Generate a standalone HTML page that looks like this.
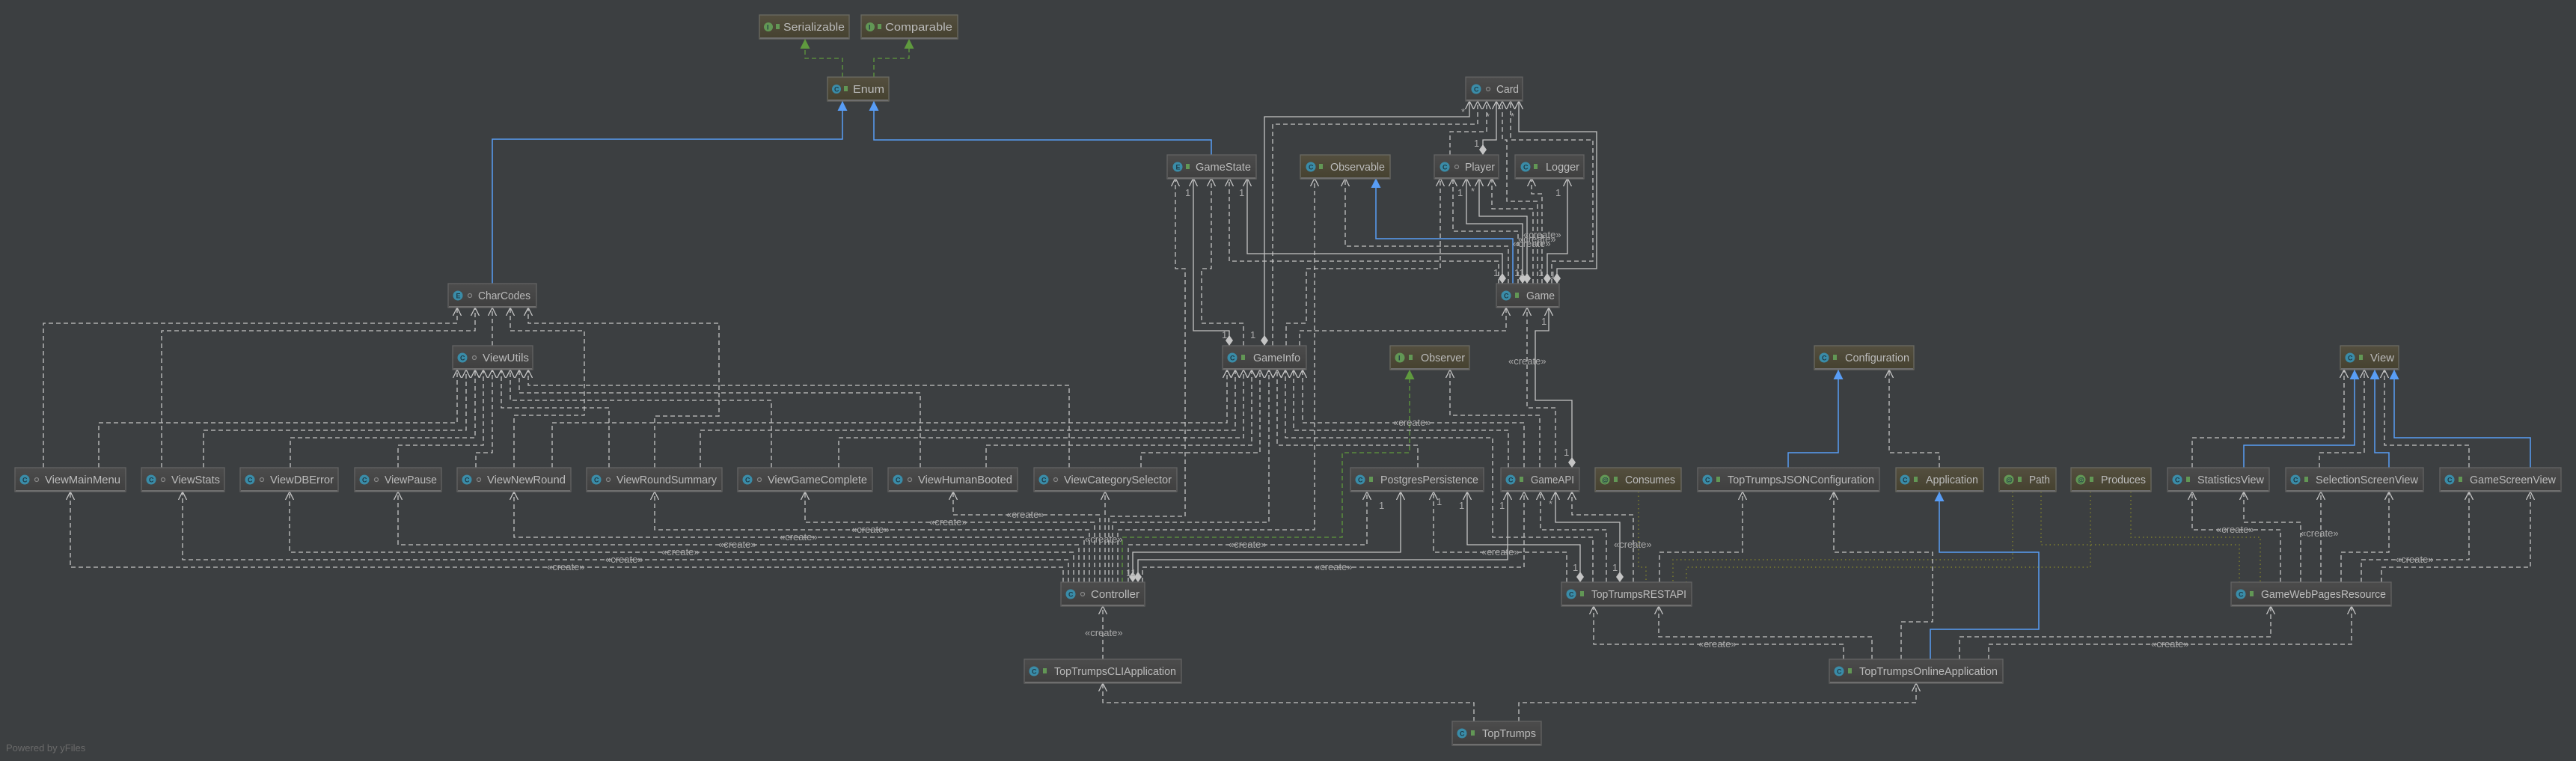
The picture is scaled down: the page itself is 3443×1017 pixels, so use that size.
<!DOCTYPE html>
<html><head><meta charset="utf-8"><style>
html,body{margin:0;padding:0;background:#3c3f41;}
svg{display:block;}
.b{fill:url(#gg);stroke:#636363;stroke-width:1.3}
.o{fill:url(#go);stroke:#6a6a62;stroke-width:1.3}
.bl{stroke:#6e6e6e;stroke-width:2}
.t{font-family:"Liberation Sans",sans-serif;font-size:15px;fill:#bbbbbb}
.ic{font-family:"Liberation Sans",sans-serif;font-size:9px;fill:#1f3a45;font-weight:bold}
.d{fill:none;stroke:#c4c4c4;stroke-width:1.3;stroke-dasharray:6,4}
.s{fill:none;stroke:#c4c4c4;stroke-width:1.3}
.bu{fill:none;stroke:#589df6;stroke-width:1.5}
.gr{fill:none;stroke:#5f9a3e;stroke-width:1.3;stroke-dasharray:6,4}
.dt{fill:none;stroke:#8a8a2a;stroke-width:1.2;stroke-dasharray:1.5,4}
.l{font-family:"Liberation Sans",sans-serif;font-size:13px;fill:#aaaaaa}
</style></head><body>
<svg width="3443" height="1017" viewBox="0 0 3443 1017" xmlns="http://www.w3.org/2000/svg">
<defs>
<linearGradient id="gg" x1="0" y1="0" x2="0" y2="1"><stop offset="0" stop-color="#4c4c4c"/><stop offset="1" stop-color="#3f3f3f"/></linearGradient>
<linearGradient id="go" x1="0" y1="0" x2="0" y2="1"><stop offset="0" stop-color="#544f3f"/><stop offset="1" stop-color="#45412f"/></linearGradient>
<marker id="a" markerWidth="12" markerHeight="12" refX="11" refY="6" orient="auto" markerUnits="userSpaceOnUse"><path d="M0,0.5 L11,6 L0,11.5" fill="none" stroke="#c4c4c4" stroke-width="1.3"/></marker>
<marker id="tb" markerWidth="14" markerHeight="14" refX="13" refY="7" orient="auto" markerUnits="userSpaceOnUse"><path d="M0,0.5 L13,7 L0,13.5 z" fill="#589df6"/></marker>
<marker id="tg" markerWidth="14" markerHeight="14" refX="13" refY="7" orient="auto" markerUnits="userSpaceOnUse"><path d="M0,0.5 L13,7 L0,13.5 z" fill="#5f9a3e"/></marker>
<marker id="dm" markerWidth="16" markerHeight="10" refX="0" refY="5" orient="auto" markerUnits="userSpaceOnUse"><path d="M0,5 L7,0 L14,5 L7,10 z" fill="#c4c4c4"/></marker>
</defs>

<!-- ===== connectors ===== -->
<!-- blue inheritance -->
<polyline class="bu" marker-end="url(#tb)" points="658,379 658,186 1126,186 1126,135"/>
<polyline class="bu" marker-end="url(#tb)" points="1619,207 1619,187 1168,187 1168,135"/>
<polyline class="bu" marker-end="url(#tb)" points="2022,379 2022,319 1839,319 1839,238"/>
<polyline class="bu" marker-end="url(#tb)" points="2390,625 2390,605 2457,605 2457,494"/>
<polyline class="bu" marker-end="url(#tb)" points="2999,625 2999,595 3147,595 3147,494"/>
<polyline class="bu" marker-end="url(#tb)" points="3193,625 3193,605 3174,605 3174,494"/>
<polyline class="bu" marker-end="url(#tb)" points="3382,625 3382,585 3200,585 3200,494"/>
<polyline class="bu" marker-end="url(#tb)" points="2580,881 2580,841 2725,841 2725,738 2592,738 2592,657"/>
<!-- green realization -->
<polyline class="gr" marker-end="url(#tg)" points="1126,103 1126,78 1076,78 1076,52"/>
<polyline class="gr" marker-end="url(#tg)" points="1168,103 1168,78 1215,78 1215,52"/>
<polyline class="gr" marker-end="url(#tg)" points="1500,778 1500,718 1794,718 1794,605 1884,605 1884,494"/>

<!-- CharCodes -->
<polyline class="d" marker-end="url(#a)" points="58,625 58,432 611,432 611,411"/>
<polyline class="d" marker-end="url(#a)" points="216,625 216,442 635,442 635,411"/>
<polyline class="d" marker-end="url(#a)" points="658,462 658,411"/>
<polyline class="d" marker-end="url(#a)" points="687,625 687,555 781,555 781,442 682,442 682,411"/>
<polyline class="d" marker-end="url(#a)" points="875,625 875,556 961,556 961,432 706,432 706,411"/>
<!-- ViewUtils -->
<polyline class="d" marker-end="url(#a)" points="132,625 132,565 611,565 611,494"/>
<polyline class="d" marker-end="url(#a)" points="272,625 272,575 623,575 623,494"/>
<polyline class="d" marker-end="url(#a)" points="388,625 388,585 635,585 635,494"/>
<polyline class="d" marker-end="url(#a)" points="532,625 532,595 646,595 646,494"/>
<polyline class="d" marker-end="url(#a)" points="636,625 636,605 658,605 658,494"/>
<polyline class="d" marker-end="url(#a)" points="814,625 814,545 670,545 670,494"/>
<polyline class="d" marker-end="url(#a)" points="1031,625 1031,535 682,535 682,494"/>
<polyline class="d" marker-end="url(#a)" points="1230,625 1230,525 694,525 694,494"/>
<polyline class="d" marker-end="url(#a)" points="1429,625 1429,515 706,515 706,494"/>
<!-- GameInfo -->
<polyline class="d" marker-end="url(#a)" points="738,625 738,565 1640,565 1640,494"/>
<polyline class="d" marker-end="url(#a)" points="936,625 936,575 1651,575 1651,494"/>
<polyline class="d" marker-end="url(#a)" points="1121,625 1121,585 1662,585 1662,494"/>
<polyline class="d" marker-end="url(#a)" points="1318,625 1318,595 1673,595 1673,494"/>
<polyline class="d" marker-end="url(#a)" points="1525,625 1525,605 1684,605 1684,494"/>
<polyline class="d" marker-end="url(#a)" points="1487,778 1487,698 1696,698 1696,494"/>
<polyline class="d" marker-end="url(#a)" points="1895,625 1895,595 1707,595 1707,494"/>
<polyline class="d" marker-end="url(#a)" points="2129,778 2129,718 1995,718 1995,585 1718,585 1718,494"/>
<polyline class="d" marker-end="url(#a)" points="2016,625 2016,575 1729,575 1729,494"/>
<polyline class="d" marker-end="url(#a)" points="2037,625 2037,565 1741,565 1741,494"/>
<text class="l" x="1862" y="569">«create»</text>

<!-- Controller to views -->
<polyline class="d" marker-end="url(#a)" points="1421,778 1421,758 94,758 94,657"/>
<polyline class="d" marker-end="url(#a)" points="1428,778 1428,748 244,748 244,657"/>
<polyline class="d" marker-end="url(#a)" points="1435,778 1435,738 387,738 387,657"/>
<polyline class="d" marker-end="url(#a)" points="1442,778 1442,728 532,728 532,657"/>
<polyline class="d" marker-end="url(#a)" points="1449,778 1449,718 687,718 687,657"/>
<polyline class="d" marker-end="url(#a)" points="1456,778 1456,708 875,708 875,657"/>
<polyline class="d" marker-end="url(#a)" points="1463,778 1463,698 1076,698 1076,657"/>
<polyline class="d" marker-end="url(#a)" points="1470,778 1470,688 1274,688 1274,657"/>
<polyline class="d" marker-end="url(#a)" points="1477,778 1477,657"/>
<text class="l" x="731" y="762">«create»</text>
<text class="l" x="809" y="752">«create»</text>
<text class="l" x="884" y="742">«create»</text>
<text class="l" x="960" y="732">«create»</text>
<text class="l" x="1042" y="722">«create»</text>
<text class="l" x="1138" y="712">«create»</text>
<text class="l" x="1242" y="702">«create»</text>
<text class="l" x="1345" y="692">«create»</text>
<text class="l" x="1450" y="725">«create»</text>

<!-- Controller to others -->
<polyline class="d" marker-end="url(#a)" points="1508,778 1508,728 1827,728 1827,657"/>
<text class="l" x="1642" y="732">«create»</text>
<polyline class="s" marker-start="url(#dm)" marker-end="url(#a)" points="1514,778 1514,738 1872,738 1872,657"/>
<polyline class="s" marker-start="url(#dm)" marker-end="url(#a)" points="1521,778 1521,748 2015,748 2015,657"/>
<polyline class="d" marker-end="url(#a)" points="1527,778 1527,758 2037,758 2037,657"/>
<text class="l" x="1757" y="762">«create»</text>
<polyline class="d" marker-end="url(#a)" points="1494,778 1494,708 1757,708 1757,238"/>
<polyline class="d" marker-end="url(#a)" points="1482,778 1482,690 1584,690 1584,359 1571,359 1571,238"/>
<text class="l" x="1505" y="770">11</text>

<!-- RESTAPI -->
<polyline class="d" marker-end="url(#a)" points="2094,778 2094,738 1916,738 1916,657"/>
<text class="l" x="1980" y="742">«create»</text>
<polyline class="s" marker-start="url(#dm)" marker-end="url(#a)" points="2112,778 2112,728 1961,728 1961,657"/>
<polyline class="d" marker-end="url(#a)" points="2147,778 2147,708 2059,708 2059,657"/>
<polyline class="s" marker-start="url(#dm)" marker-end="url(#a)" points="2165,778 2165,698 2079,698 2079,657"/>
<polyline class="d" marker-end="url(#a)" points="2183,778 2183,688 2101,688 2101,657"/>
<text class="l" x="2157" y="732">«create»</text>
<polyline class="d" marker-end="url(#a)" points="2218,778 2218,738 2329,738 2329,657"/>
<text class="l" x="1950" y="680">1</text><text class="l" x="2004" y="680">1</text><text class="l" x="2070" y="678">*</text>
<text class="l" x="1843" y="680">1</text><text class="l" x="2102" y="763">1</text><text class="l" x="2155" y="763">1</text><text class="l" x="1920" y="675">1</text>

<!-- annotation dotted -->
<polyline class="dt" points="2190,657 2190,758 2200,758 2200,778"/>
<polyline class="dt" points="2690,657 2690,748 2236,748 2236,778"/>
<polyline class="dt" points="2794,657 2794,758 2254,758 2254,778"/>
<polyline class="dt" points="2728,657 2728,728 2993,728 2993,778"/>
<polyline class="dt" points="2848,657 2848,718 3021,718 3021,778"/>

<!-- JSON config / application -->
<polyline class="d" marker-end="url(#a)" points="2541,881 2541,831 2583,831 2583,738 2451,738 2451,657"/>
<polyline class="d" marker-end="url(#a)" points="2592,625 2592,605 2525,605 2525,494"/>

<!-- Online application -->
<polyline class="d" marker-end="url(#a)" points="2464,881 2464,861 2130,861 2130,810"/>
<polyline class="d" marker-end="url(#a)" points="2502,881 2502,851 2217,851 2217,810"/>
<text class="l" x="2270" y="865">«create»</text>
<polyline class="d" marker-end="url(#a)" points="2619,881 2619,851 3035,851 3035,810"/>
<polyline class="d" marker-end="url(#a)" points="2658,881 2658,861 3143,861 3143,810"/>
<text class="l" x="2875" y="865">«create»</text>

<!-- GameWebPagesResource -->
<polyline class="d" marker-end="url(#a)" points="3048,778 3048,708 2930,708 2930,657"/>
<text class="l" x="2962" y="712">«create»</text>
<polyline class="d" marker-end="url(#a)" points="3075,778 3075,698 2999,698 2999,657"/>
<polyline class="d" marker-end="url(#a)" points="3102,778 3102,657"/>
<text class="l" x="3075" y="717">«create»</text>
<polyline class="d" marker-end="url(#a)" points="3129,778 3129,738 3193,738 3193,657"/>
<polyline class="d" marker-end="url(#a)" points="3156,778 3156,748 3300,748 3300,657"/>
<text class="l" x="3202" y="752">«create»</text>
<polyline class="d" marker-end="url(#a)" points="3183,778 3183,758 3382,758 3382,657"/>
<polyline class="d" marker-end="url(#a)" points="2930,625 2930,585 3133,585 3133,494"/>
<polyline class="d" marker-end="url(#a)" points="3100,625 3100,605 3160,605 3160,494"/>
<polyline class="d" marker-end="url(#a)" points="3300,625 3300,595 3187,595 3187,494"/>

<!-- CLI / TopTrumps -->
<polyline class="d" marker-end="url(#a)" points="1474,881 1474,810"/>
<text class="l" x="1450" y="850">«create»</text>
<polyline class="d" marker-end="url(#a)" points="1970,964 1970,939 1474,939 1474,913"/>
<polyline class="d" marker-end="url(#a)" points="2030,964 2030,939 2561,939 2561,913"/>

<!-- Upper: GameInfo -->
<polyline class="s" marker-start="url(#dm)" marker-end="url(#a)" points="1690,462 1690,156 1964,156 1964,135"/>
<polyline class="s" marker-start="url(#dm)" marker-end="url(#a)" points="1643,462 1643,442 1595,442 1595,238"/>
<polyline class="d" marker-end="url(#a)" points="1662,462 1662,432 1606,432 1606,359 1619,359 1619,238"/>
<polyline class="d" marker-end="url(#a)" points="1701,462 1701,166 1975,166 1975,135"/>
<polyline class="d" marker-end="url(#a)" points="1719,462 1719,432 1746,432 1746,359 1925,359 1925,238"/>
<polyline class="d" marker-end="url(#a)" points="1737,462 1737,442 2013,442 2013,411"/>
<text class="l" x="1633" y="452">1</text><text class="l" x="1671" y="452">1</text>
<text class="l" x="1584" y="262">1</text><text class="l" x="1656" y="262">1</text>
<!-- Game upward -->
<polyline class="s" marker-start="url(#dm)" marker-end="url(#a)" points="2008,379 2008,339 1667,339 1667,238"/>
<polyline class="d" marker-end="url(#a)" points="2003,379 2003,349 1643,349 1643,238"/>
<polyline class="d" marker-end="url(#a)" points="2016,379 2016,329 1798,329 1798,238"/>
<polyline class="s" marker-start="url(#dm)" marker-end="url(#a)" points="2035,379 2035,299 1960,299 1960,238"/>
<polyline class="s" marker-start="url(#dm)" marker-end="url(#a)" points="2041,379 2041,289 1977,289 1977,238"/>
<polyline class="d" marker-end="url(#a)" points="2029,379 2029,309 1942,309 1942,238"/>
<polyline class="d" marker-end="url(#a)" points="2049,379 2049,279 1994,279 1994,238"/>
<polyline class="d" marker-end="url(#a)" points="2061,379 2061,259 2047,259 2047,238"/>
<polyline class="s" marker-start="url(#dm)" marker-end="url(#a)" points="2068,379 2068,339 2095,339 2095,238"/>
<polyline class="s" marker-start="url(#dm)" marker-end="url(#a)" points="2081,379 2081,359 2134,359 2134,176 2030,176 2030,135"/>
<polyline class="d" marker-end="url(#a)" points="2074,379 2074,349 2129,349 2129,187 2019,187 2019,135"/>
<polyline class="d" marker-end="url(#a)" points="2055,379 2055,269 2014,269 2014,187 2008,187 2008,135"/>
<text class="l" x="2036" y="318">«create»</text>
<text class="l" x="2029" y="324">«create»</text>
<text class="l" x="2022" y="330">«create»</text>
<text class="l" x="1996" y="369">1</text><text class="l" x="2024" y="369">11</text><text class="l" x="2056" y="369">1</text><text class="l" x="2072" y="372">1</text>
<text class="l" x="1948" y="262">1</text><text class="l" x="2079" y="262">1</text><text class="l" x="1966" y="260">*</text>
<!-- Player-Card -->
<polyline class="s" marker-start="url(#dm)" marker-end="url(#a)" points="1982,207 1982,187 2000,187 2000,135"/>
<polyline class="d" marker-end="url(#a)" points="1938,207 1938,176 1987,176 1987,135"/>
<text class="l" x="1970" y="196">1</text>
<text class="l" x="1953" y="154">*</text><text class="l" x="1986" y="160">*</text><text class="l" x="2019" y="160">*</text>
<!-- Game down -->
<polyline class="d" marker-end="url(#a)" points="2079,625 2079,545 2041,545 2041,411"/>
<text class="l" x="2016" y="487">«create»</text>
<polyline class="s" marker-start="url(#dm)" marker-end="url(#a)" points="2101,625 2101,535 2052,535 2052,442 2070,442 2070,411"/>
<text class="l" x="2060" y="434">1</text><text class="l" x="2090" y="609">1</text>
<polyline class="d" marker-end="url(#a)" points="2058,625 2058,555 1938,555 1938,494"/>

<!-- ===== boxes ===== -->
<g id="boxes">
<!-- helper pattern: rect, bottom line, icon, access, text -->
<g transform="translate(1015,20)"><rect class="o" width="120" height="32"/><line class="bl" x1="1" y1="31" x2="119" y2="31"/><circle cx="12" cy="16" r="6" fill="#629755"/><text class="ic" x="10" y="19.5">I</text><rect x="22" y="12" width="5" height="7" fill="#629755"/><text class="t" x="32" y="21" textLength="82" lengthAdjust="spacingAndGlyphs">Serializable</text></g>
<g transform="translate(1151,20)"><rect class="o" width="129" height="32"/><line class="bl" x1="1" y1="31" x2="128" y2="31"/><circle cx="12" cy="16" r="6" fill="#629755"/><text class="ic" x="10" y="19.5">I</text><rect x="22" y="12" width="5" height="7" fill="#629755"/><text class="t" x="32" y="21" textLength="90" lengthAdjust="spacingAndGlyphs">Comparable</text></g>
<g transform="translate(1106,103)"><rect class="o" width="82" height="32"/><line class="bl" x1="1" y1="31" x2="81" y2="31"/><circle cx="12" cy="16" r="6" fill="#3a8ca8"/><text class="ic" x="9" y="19.5">C</text><rect x="22" y="12" width="5" height="7" fill="#629755"/><text class="t" x="34" y="21" textLength="42" lengthAdjust="spacingAndGlyphs">Enum</text></g>
<g transform="translate(1959,103)"><rect class="b" width="76" height="32"/><line class="bl" x1="1" y1="31" x2="75" y2="31"/><circle cx="14" cy="16" r="6.5" fill="#3a8ca8"/><text class="ic" x="11" y="19.5">C</text><circle cx="30" cy="16" r="2.5" fill="none" stroke="#888" stroke-width="1.2"/><text class="t" x="41" y="21" textLength="30" lengthAdjust="spacingAndGlyphs">Card</text></g>
<g transform="translate(1560,207)"><rect class="b" width="119" height="32"/><line class="bl" x1="1" y1="31" x2="118" y2="31"/><circle cx="14" cy="16" r="6.5" fill="#3a8ca8"/><text class="ic" x="11.5" y="19.5">E</text><rect x="25" y="12" width="5" height="7" fill="#629755"/><text class="t" x="38" y="21" textLength="74" lengthAdjust="spacingAndGlyphs">GameState</text></g>
<g transform="translate(1738,207)"><rect class="o" width="120" height="32"/><line class="bl" x1="1" y1="31" x2="119" y2="31"/><circle cx="14" cy="16" r="6.5" fill="#3a8ca8"/><text class="ic" x="11" y="19.5">C</text><rect x="25" y="12" width="5" height="7" fill="#629755"/><text class="t" x="40" y="21" textLength="73" lengthAdjust="spacingAndGlyphs">Observable</text></g>
<g transform="translate(1917,207)"><rect class="b" width="86" height="32"/><line class="bl" x1="1" y1="31" x2="85" y2="31"/><circle cx="14" cy="16" r="6.5" fill="#3a8ca8"/><text class="ic" x="11" y="19.5">C</text><circle cx="30" cy="16" r="2.5" fill="none" stroke="#888" stroke-width="1.2"/><text class="t" x="41" y="21" textLength="40" lengthAdjust="spacingAndGlyphs">Player</text></g>
<g transform="translate(2025,207)"><rect class="b" width="92" height="32"/><line class="bl" x1="1" y1="31" x2="91" y2="31"/><circle cx="14" cy="16" r="6.5" fill="#3a8ca8"/><text class="ic" x="11" y="19.5">C</text><rect x="25" y="12" width="5" height="7" fill="#629755"/><text class="t" x="41" y="21" textLength="45" lengthAdjust="spacingAndGlyphs">Logger</text></g>
<g transform="translate(599,379)"><rect class="b" width="118" height="32"/><line class="bl" x1="1" y1="31" x2="117" y2="31"/><circle cx="13" cy="16" r="6.5" fill="#3a8ca8"/><text class="ic" x="10.5" y="19.5">E</text><circle cx="29" cy="16" r="2.5" fill="none" stroke="#888" stroke-width="1.2"/><text class="t" x="40" y="21" textLength="70" lengthAdjust="spacingAndGlyphs">CharCodes</text></g>
<g transform="translate(2000,379)"><rect class="b" width="84" height="32"/><line class="bl" x1="1" y1="31" x2="83" y2="31"/><circle cx="13" cy="16" r="6.5" fill="#3a8ca8"/><text class="ic" x="10" y="19.5">C</text><rect x="25" y="12" width="5" height="7" fill="#629755"/><text class="t" x="40" y="21" textLength="38" lengthAdjust="spacingAndGlyphs">Game</text></g>
<g transform="translate(605,462)"><rect class="b" width="107" height="32"/><line class="bl" x1="1" y1="31" x2="106" y2="31"/><circle cx="13" cy="16" r="6.5" fill="#3a8ca8"/><text class="ic" x="10" y="19.5">C</text><circle cx="29" cy="16" r="2.5" fill="none" stroke="#888" stroke-width="1.2"/><text class="t" x="40" y="21" textLength="62" lengthAdjust="spacingAndGlyphs">ViewUtils</text></g>
<g transform="translate(1634,462)"><rect class="b" width="112" height="32"/><line class="bl" x1="1" y1="31" x2="111" y2="31"/><circle cx="13" cy="16" r="6.5" fill="#3a8ca8"/><text class="ic" x="10" y="19.5">C</text><rect x="25" y="12" width="5" height="7" fill="#629755"/><text class="t" x="41" y="21" textLength="63" lengthAdjust="spacingAndGlyphs">GameInfo</text></g>
<g transform="translate(1858,462)"><rect class="o" width="106" height="32"/><line class="bl" x1="1" y1="31" x2="105" y2="31"/><circle cx="13" cy="16" r="6.5" fill="#629755"/><text class="ic" x="11" y="19.5">I</text><rect x="25" y="12" width="5" height="7" fill="#629755"/><text class="t" x="41" y="21" textLength="59" lengthAdjust="spacingAndGlyphs">Observer</text></g>
<g transform="translate(2425,462)"><rect class="o" width="133" height="32"/><line class="bl" x1="1" y1="31" x2="132" y2="31"/><circle cx="13" cy="16" r="6.5" fill="#3a8ca8"/><text class="ic" x="10" y="19.5">C</text><rect x="25" y="12" width="5" height="7" fill="#629755"/><text class="t" x="41" y="21" textLength="86" lengthAdjust="spacingAndGlyphs">Configuration</text></g>
<g transform="translate(3128,462)"><rect class="o" width="78" height="32"/><line class="bl" x1="1" y1="31" x2="77" y2="31"/><circle cx="13" cy="16" r="6.5" fill="#3a8ca8"/><text class="ic" x="10" y="19.5">C</text><rect x="25" y="12" width="5" height="7" fill="#629755"/><text class="t" x="40" y="21" textLength="32" lengthAdjust="spacingAndGlyphs">View</text></g>

<g transform="translate(20,625)"><rect class="b" width="148" height="32"/><line class="bl" x1="1" y1="31" x2="147" y2="31"/><circle cx="13" cy="16" r="6.5" fill="#3a8ca8"/><text class="ic" x="10" y="19.5">C</text><circle cx="29" cy="16" r="2.5" fill="none" stroke="#888" stroke-width="1.2"/><text class="t" x="40" y="21" textLength="101" lengthAdjust="spacingAndGlyphs">ViewMainMenu</text></g>
<g transform="translate(189,625)"><rect class="b" width="111" height="32"/><line class="bl" x1="1" y1="31" x2="110" y2="31"/><circle cx="13" cy="16" r="6.5" fill="#3a8ca8"/><text class="ic" x="10" y="19.5">C</text><circle cx="29" cy="16" r="2.5" fill="none" stroke="#888" stroke-width="1.2"/><text class="t" x="40" y="21" textLength="65" lengthAdjust="spacingAndGlyphs">ViewStats</text></g>
<g transform="translate(321,625)"><rect class="b" width="131" height="32"/><line class="bl" x1="1" y1="31" x2="130" y2="31"/><circle cx="13" cy="16" r="6.5" fill="#3a8ca8"/><text class="ic" x="10" y="19.5">C</text><circle cx="29" cy="16" r="2.5" fill="none" stroke="#888" stroke-width="1.2"/><text class="t" x="40" y="21" textLength="85" lengthAdjust="spacingAndGlyphs">ViewDBError</text></g>
<g transform="translate(474,625)"><rect class="b" width="116" height="32"/><line class="bl" x1="1" y1="31" x2="115" y2="31"/><circle cx="13" cy="16" r="6.5" fill="#3a8ca8"/><text class="ic" x="10" y="19.5">C</text><circle cx="29" cy="16" r="2.5" fill="none" stroke="#888" stroke-width="1.2"/><text class="t" x="40" y="21" textLength="70" lengthAdjust="spacingAndGlyphs">ViewPause</text></g>
<g transform="translate(611,625)"><rect class="b" width="152" height="32"/><line class="bl" x1="1" y1="31" x2="151" y2="31"/><circle cx="13" cy="16" r="6.5" fill="#3a8ca8"/><text class="ic" x="10" y="19.5">C</text><circle cx="29" cy="16" r="2.5" fill="none" stroke="#888" stroke-width="1.2"/><text class="t" x="40" y="21" textLength="105" lengthAdjust="spacingAndGlyphs">ViewNewRound</text></g>
<g transform="translate(784,625)"><rect class="b" width="181" height="32"/><line class="bl" x1="1" y1="31" x2="180" y2="31"/><circle cx="13" cy="16" r="6.5" fill="#3a8ca8"/><text class="ic" x="10" y="19.5">C</text><circle cx="29" cy="16" r="2.5" fill="none" stroke="#888" stroke-width="1.2"/><text class="t" x="40" y="21" textLength="134" lengthAdjust="spacingAndGlyphs">ViewRoundSummary</text></g>
<g transform="translate(986,625)"><rect class="b" width="180" height="32"/><line class="bl" x1="1" y1="31" x2="179" y2="31"/><circle cx="13" cy="16" r="6.5" fill="#3a8ca8"/><text class="ic" x="10" y="19.5">C</text><circle cx="29" cy="16" r="2.5" fill="none" stroke="#888" stroke-width="1.2"/><text class="t" x="40" y="21" textLength="133" lengthAdjust="spacingAndGlyphs">ViewGameComplete</text></g>
<g transform="translate(1187,625)"><rect class="b" width="173" height="32"/><line class="bl" x1="1" y1="31" x2="172" y2="31"/><circle cx="13" cy="16" r="6.5" fill="#3a8ca8"/><text class="ic" x="10" y="19.5">C</text><circle cx="29" cy="16" r="2.5" fill="none" stroke="#888" stroke-width="1.2"/><text class="t" x="40" y="21" textLength="126" lengthAdjust="spacingAndGlyphs">ViewHumanBooted</text></g>
<g transform="translate(1382,625)"><rect class="b" width="191" height="32"/><line class="bl" x1="1" y1="31" x2="190" y2="31"/><circle cx="13" cy="16" r="6.5" fill="#3a8ca8"/><text class="ic" x="10" y="19.5">C</text><circle cx="29" cy="16" r="2.5" fill="none" stroke="#888" stroke-width="1.2"/><text class="t" x="40" y="21" textLength="144" lengthAdjust="spacingAndGlyphs">ViewCategorySelector</text></g>
<g transform="translate(1805,625)"><rect class="b" width="178" height="32"/><line class="bl" x1="1" y1="31" x2="177" y2="31"/><circle cx="13" cy="16" r="6.5" fill="#3a8ca8"/><text class="ic" x="10" y="19.5">C</text><rect x="25" y="12" width="5" height="7" fill="#629755"/><text class="t" x="40" y="21" textLength="131" lengthAdjust="spacingAndGlyphs">PostgresPersistence</text></g>
<g transform="translate(2006,625)"><rect class="b" width="105" height="32"/><line class="bl" x1="1" y1="31" x2="104" y2="31"/><circle cx="13" cy="16" r="6.5" fill="#3a8ca8"/><text class="ic" x="10" y="19.5">C</text><rect x="25" y="12" width="5" height="7" fill="#629755"/><text class="t" x="40" y="21" textLength="58" lengthAdjust="spacingAndGlyphs">GameAPI</text></g>
<g transform="translate(2132,625)"><rect class="o" width="115" height="32"/><line class="bl" x1="1" y1="31" x2="114" y2="31"/><circle cx="13" cy="16" r="6.5" fill="#629755"/><text class="ic" x="9" y="19.5">@</text><rect x="25" y="12" width="5" height="7" fill="#629755"/><text class="t" x="40" y="21" textLength="67" lengthAdjust="spacingAndGlyphs">Consumes</text></g>
<g transform="translate(2269,625)"><rect class="b" width="243" height="32"/><line class="bl" x1="1" y1="31" x2="242" y2="31"/><circle cx="13" cy="16" r="6.5" fill="#3a8ca8"/><text class="ic" x="10" y="19.5">C</text><rect x="25" y="12" width="5" height="7" fill="#629755"/><text class="t" x="40" y="21" textLength="196" lengthAdjust="spacingAndGlyphs">TopTrumpsJSONConfiguration</text></g>
<g transform="translate(2534,625)"><rect class="o" width="117" height="32"/><line class="bl" x1="1" y1="31" x2="116" y2="31"/><circle cx="12" cy="16" r="6.5" fill="#3a8ca8"/><text class="ic" x="9" y="19.5">C</text><rect x="24" y="12" width="5" height="7" fill="#629755"/><text class="t" x="40" y="21" textLength="70" lengthAdjust="spacingAndGlyphs">Application</text></g>
<g transform="translate(2672,625)"><rect class="o" width="76" height="32"/><line class="bl" x1="1" y1="31" x2="75" y2="31"/><circle cx="13" cy="16" r="6.5" fill="#629755"/><text class="ic" x="9" y="19.5">@</text><rect x="25" y="12" width="5" height="7" fill="#629755"/><text class="t" x="40" y="21" textLength="28" lengthAdjust="spacingAndGlyphs">Path</text></g>
<g transform="translate(2768,625)"><rect class="o" width="107" height="32"/><line class="bl" x1="1" y1="31" x2="106" y2="31"/><circle cx="13" cy="16" r="6.5" fill="#629755"/><text class="ic" x="9" y="19.5">@</text><rect x="25" y="12" width="5" height="7" fill="#629755"/><text class="t" x="40" y="21" textLength="60" lengthAdjust="spacingAndGlyphs">Produces</text></g>
<g transform="translate(2897,625)"><rect class="b" width="136" height="32"/><line class="bl" x1="1" y1="31" x2="135" y2="31"/><circle cx="13" cy="16" r="6.5" fill="#3a8ca8"/><text class="ic" x="10" y="19.5">C</text><rect x="25" y="12" width="5" height="7" fill="#629755"/><text class="t" x="40" y="21" textLength="89" lengthAdjust="spacingAndGlyphs">StatisticsView</text></g>
<g transform="translate(3055,625)"><rect class="b" width="184" height="32"/><line class="bl" x1="1" y1="31" x2="183" y2="31"/><circle cx="13" cy="16" r="6.5" fill="#3a8ca8"/><text class="ic" x="10" y="19.5">C</text><rect x="25" y="12" width="5" height="7" fill="#629755"/><text class="t" x="40" y="21" textLength="137" lengthAdjust="spacingAndGlyphs">SelectionScreenView</text></g>
<g transform="translate(3261,625)"><rect class="b" width="162" height="32"/><line class="bl" x1="1" y1="31" x2="161" y2="31"/><circle cx="13" cy="16" r="6.5" fill="#3a8ca8"/><text class="ic" x="10" y="19.5">C</text><rect x="25" y="12" width="5" height="7" fill="#629755"/><text class="t" x="40" y="21" textLength="115" lengthAdjust="spacingAndGlyphs">GameScreenView</text></g>

<g transform="translate(1418,778)"><rect class="b" width="112" height="32"/><line class="bl" x1="1" y1="31" x2="111" y2="31"/><circle cx="13" cy="16" r="6.5" fill="#3a8ca8"/><text class="ic" x="10" y="19.5">C</text><circle cx="29" cy="16" r="2.5" fill="none" stroke="#888" stroke-width="1.2"/><text class="t" x="40" y="21" textLength="65" lengthAdjust="spacingAndGlyphs">Controller</text></g>
<g transform="translate(2087,778)"><rect class="b" width="174" height="32"/><line class="bl" x1="1" y1="31" x2="173" y2="31"/><circle cx="13" cy="16" r="6.5" fill="#3a8ca8"/><text class="ic" x="10" y="19.5">C</text><rect x="25" y="12" width="5" height="7" fill="#629755"/><text class="t" x="40" y="21" textLength="127" lengthAdjust="spacingAndGlyphs">TopTrumpsRESTAPI</text></g>
<g transform="translate(2982,778)"><rect class="b" width="214" height="32"/><line class="bl" x1="1" y1="31" x2="213" y2="31"/><circle cx="13" cy="16" r="6.5" fill="#3a8ca8"/><text class="ic" x="10" y="19.5">C</text><rect x="25" y="12" width="5" height="7" fill="#629755"/><text class="t" x="40" y="21" textLength="167" lengthAdjust="spacingAndGlyphs">GameWebPagesResource</text></g>
<g transform="translate(1369,881)"><rect class="b" width="210" height="32"/><line class="bl" x1="1" y1="31" x2="209" y2="31"/><circle cx="13" cy="16" r="6.5" fill="#3a8ca8"/><text class="ic" x="10" y="19.5">C</text><rect x="25" y="12" width="5" height="7" fill="#629755"/><text class="t" x="40" y="21" textLength="163" lengthAdjust="spacingAndGlyphs">TopTrumpsCLIApplication</text></g>
<g transform="translate(2445,881)"><rect class="b" width="232" height="32"/><line class="bl" x1="1" y1="31" x2="231" y2="31"/><circle cx="13" cy="16" r="6.5" fill="#3a8ca8"/><text class="ic" x="10" y="19.5">C</text><rect x="25" y="12" width="5" height="7" fill="#629755"/><text class="t" x="40" y="21" textLength="185" lengthAdjust="spacingAndGlyphs">TopTrumpsOnlineApplication</text></g>
<g transform="translate(1941,964)"><rect class="b" width="119" height="32"/><line class="bl" x1="1" y1="31" x2="118" y2="31"/><circle cx="13" cy="16" r="6.5" fill="#3a8ca8"/><text class="ic" x="10" y="19.5">C</text><rect x="25" y="12" width="5" height="7" fill="#629755"/><text class="t" x="40" y="21" textLength="72" lengthAdjust="spacingAndGlyphs">TopTrumps</text></g>
</g>

<text x="8" y="1004" font-family="Liberation Sans, sans-serif" font-size="13" fill="#6a6a6a">Powered by yFiles</text>
</svg>
</body></html>
